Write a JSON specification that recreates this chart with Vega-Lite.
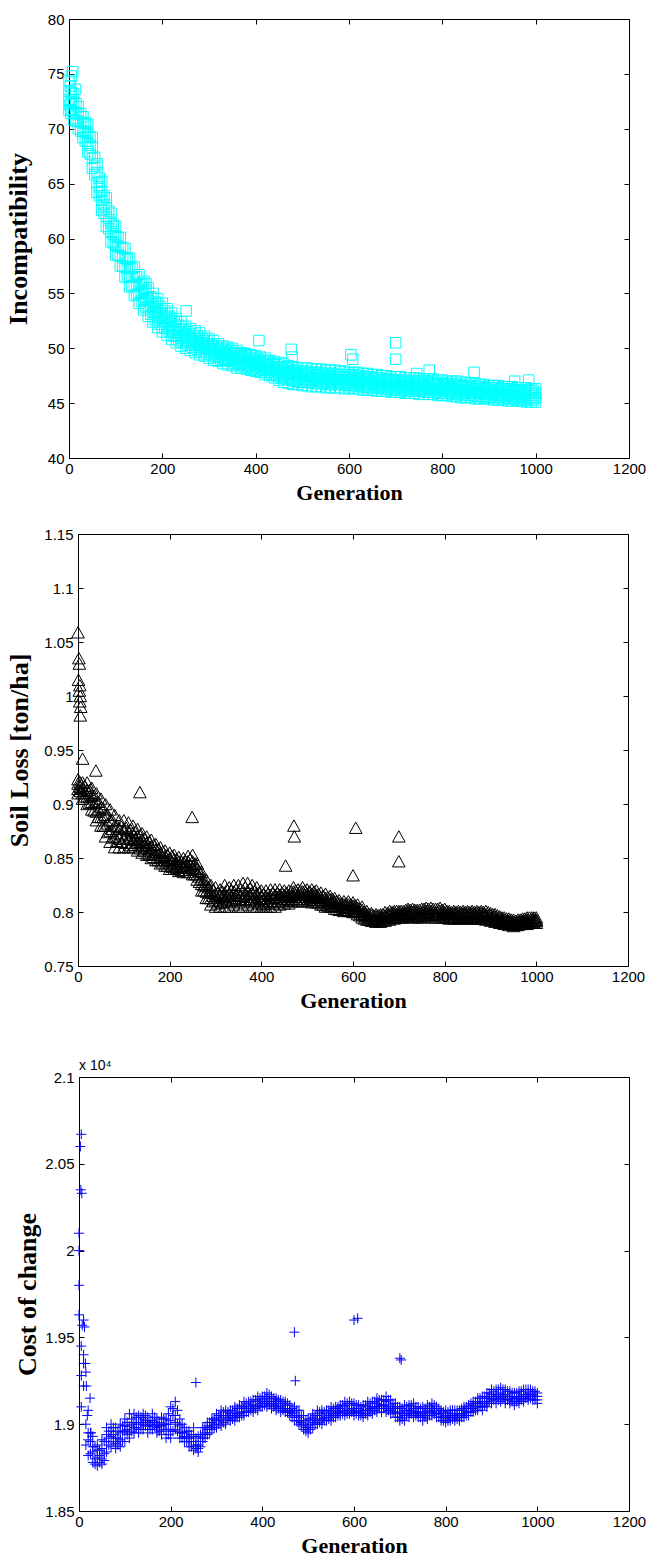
{
"$schema": "https://vega.github.io/schema/vega-lite/v6.json",
"padding": {"left": 5, "top": 12, "right": 0, "bottom": 0},
"background": "white",
"data": {"values": [
{"g":0,"i":74.4,"s":0.923,"c":20100},{"g":0,"i":73.4,"s":0.919,"c":20000},{"g":0,"i":72.6,"s":0.914,"c":19800},{"g":0,"i":71.7,"s":0.910,"c":19630},
{"g":10,"i":73.2,"s":0.920,"c":19600},{"g":10,"i":72.4,"s":0.915,"c":19400},{"g":10,"i":71.5,"s":0.910,"c":19350},{"g":10,"i":70.8,"s":0.905,"c":19220},
{"g":20,"i":72.0,"s":0.920,"c":18820},{"g":20,"i":71.3,"s":0.913,"c":19080},{"g":20,"i":70.7,"s":0.907,"c":18950},{"g":20,"i":70.0,"s":0.900,"c":18910},
{"g":30,"i":71.1,"s":0.915,"c":18870},{"g":30,"i":70.5,"s":0.908,"c":18780},{"g":30,"i":69.8,"s":0.902,"c":18930},{"g":30,"i":69.2,"s":0.895,"c":18840},
{"g":40,"i":70.4,"s":0.910,"c":18760},{"g":40,"i":69.6,"s":0.902,"c":18880},{"g":40,"i":68.7,"s":0.893,"c":18810},{"g":40,"i":67.9,"s":0.885,"c":18850},
{"g":50,"i":69.2,"s":0.905,"c":18910},{"g":50,"i":68.3,"s":0.897,"c":18770},{"g":50,"i":67.3,"s":0.888,"c":18860},{"g":50,"i":66.4,"s":0.880,"c":18800},
{"g":60,"i":66.8,"s":0.900,"c":18840},{"g":60,"i":66.0,"s":0.890,"c":18980},{"g":60,"i":65.1,"s":0.880,"c":18900},{"g":60,"i":64.2,"s":0.870,"c":18940},
{"g":70,"i":65.2,"s":0.895,"c":19000},{"g":70,"i":64.3,"s":0.885,"c":18870},{"g":70,"i":63.5,"s":0.875,"c":18930},{"g":70,"i":62.6,"s":0.865,"c":18960},
{"g":80,"i":63.7,"s":0.890,"c":18860},{"g":80,"i":62.8,"s":0.880,"c":18980},{"g":80,"i":62.0,"s":0.870,"c":18920},{"g":80,"i":61.1,"s":0.860,"c":18890},
{"g":90,"i":62.3,"s":0.885,"c":18950},{"g":90,"i":61.4,"s":0.877,"c":18870},{"g":90,"i":60.6,"s":0.868,"c":19000},{"g":90,"i":59.7,"s":0.860,"c":18910},
{"g":100,"i":61.1,"s":0.885,"c":19030},{"g":100,"i":60.2,"s":0.877,"c":18900},{"g":100,"i":59.4,"s":0.868,"c":18960},{"g":100,"i":58.5,"s":0.860,"c":18990},
{"g":110,"i":60.1,"s":0.883,"c":18920},{"g":110,"i":59.2,"s":0.875,"c":19060},{"g":110,"i":58.4,"s":0.868,"c":18990},{"g":110,"i":57.5,"s":0.860,"c":18950},
{"g":120,"i":59.1,"s":0.880,"c":19010},{"g":120,"i":58.2,"s":0.873,"c":18950},{"g":120,"i":57.4,"s":0.867,"c":19060},{"g":120,"i":56.5,"s":0.860,"c":18980},
{"g":130,"i":58.2,"s":0.877,"c":18950},{"g":130,"i":57.3,"s":0.870,"c":19050},{"g":130,"i":56.5,"s":0.864,"c":19000},{"g":130,"i":55.6,"s":0.857,"c":18970},
{"g":140,"i":57.4,"s":0.873,"c":19060},{"g":140,"i":56.5,"s":0.867,"c":18970},{"g":140,"i":55.7,"s":0.861,"c":19030},{"g":140,"i":54.8,"s":0.855,"c":19000},
{"g":150,"i":56.7,"s":0.870,"c":18950},{"g":150,"i":55.8,"s":0.864,"c":19040},{"g":150,"i":55.0,"s":0.859,"c":18990},{"g":150,"i":54.1,"s":0.853,"c":19010},
{"g":160,"i":56.1,"s":0.867,"c":19060},{"g":160,"i":55.2,"s":0.861,"c":18970},{"g":160,"i":54.4,"s":0.856,"c":19020},{"g":160,"i":53.5,"s":0.850,"c":18990},
{"g":170,"i":55.5,"s":0.863,"c":18950},{"g":170,"i":54.6,"s":0.858,"c":19030},{"g":170,"i":53.8,"s":0.853,"c":18980},{"g":170,"i":52.9,"s":0.848,"c":19000},
{"g":180,"i":55.0,"s":0.860,"c":19040},{"g":180,"i":54.1,"s":0.855,"c":18940},{"g":180,"i":53.3,"s":0.850,"c":18990},{"g":180,"i":52.4,"s":0.845,"c":18960},
{"g":190,"i":54.5,"s":0.857,"c":18920},{"g":190,"i":53.6,"s":0.852,"c":19030},{"g":190,"i":52.8,"s":0.848,"c":18970},{"g":190,"i":51.9,"s":0.843,"c":19000},
{"g":200,"i":54.1,"s":0.855,"c":19100},{"g":200,"i":53.2,"s":0.850,"c":18920},{"g":200,"i":52.4,"s":0.845,"c":19020},{"g":200,"i":51.5,"s":0.840,"c":18960},
{"g":210,"i":53.6,"s":0.853,"c":18970},{"g":210,"i":52.8,"s":0.849,"c":19130},{"g":210,"i":52.0,"s":0.844,"c":19050},{"g":210,"i":51.2,"s":0.840,"c":19010},
{"g":220,"i":53.2,"s":0.851,"c":19030},{"g":220,"i":52.4,"s":0.847,"c":18920},{"g":220,"i":51.6,"s":0.842,"c":18990},{"g":220,"i":50.8,"s":0.838,"c":18950},
{"g":230,"i":52.7,"s":0.850,"c":18900},{"g":230,"i":52.0,"s":0.846,"c":18980},{"g":230,"i":51.2,"s":0.841,"c":18930},{"g":230,"i":50.5,"s":0.837,"c":18950},
{"g":240,"i":52.4,"s":0.852,"c":18960},{"g":240,"i":51.7,"s":0.847,"c":18870},{"g":240,"i":50.9,"s":0.842,"c":18920},{"g":240,"i":50.2,"s":0.837,"c":18900},
{"g":250,"i":52.0,"s":0.853,"c":18850},{"g":250,"i":51.3,"s":0.847,"c":18980},{"g":250,"i":50.7,"s":0.841,"c":18900},{"g":250,"i":50.0,"s":0.835,"c":18930},
{"g":260,"i":51.8,"s":0.845,"c":18930},{"g":260,"i":51.1,"s":0.840,"c":18840},{"g":260,"i":50.5,"s":0.835,"c":18880},{"g":260,"i":49.8,"s":0.830,"c":18860},
{"g":270,"i":51.6,"s":0.837,"c":18900},{"g":270,"i":50.9,"s":0.831,"c":18980},{"g":270,"i":50.3,"s":0.826,"c":18940},{"g":270,"i":49.6,"s":0.820,"c":18920},
{"g":280,"i":51.4,"s":0.830,"c":19010},{"g":280,"i":50.7,"s":0.824,"c":18940},{"g":280,"i":50.1,"s":0.819,"c":18970},{"g":280,"i":49.4,"s":0.813,"c":18990},
{"g":290,"i":51.1,"s":0.825,"c":18970},{"g":290,"i":50.5,"s":0.819,"c":19030},{"g":290,"i":49.9,"s":0.813,"c":18990},{"g":290,"i":49.3,"s":0.807,"c":19010},
{"g":300,"i":50.9,"s":0.823,"c":19060},{"g":300,"i":50.3,"s":0.817,"c":18980},{"g":300,"i":49.7,"s":0.811,"c":19020},{"g":300,"i":49.1,"s":0.805,"c":19040},
{"g":310,"i":50.7,"s":0.821,"c":18990},{"g":310,"i":50.1,"s":0.816,"c":19080},{"g":310,"i":49.5,"s":0.810,"c":19030},{"g":310,"i":48.9,"s":0.805,"c":19050},
{"g":320,"i":50.4,"s":0.825,"c":19080},{"g":320,"i":49.9,"s":0.818,"c":19000},{"g":320,"i":49.3,"s":0.812,"c":19050},{"g":320,"i":48.8,"s":0.805,"c":19020},
{"g":330,"i":50.2,"s":0.823,"c":19020},{"g":330,"i":49.7,"s":0.817,"c":19080},{"g":330,"i":49.1,"s":0.811,"c":19040},{"g":330,"i":48.6,"s":0.805,"c":19060},
{"g":340,"i":50.1,"s":0.825,"c":19100},{"g":340,"i":49.6,"s":0.819,"c":19020},{"g":340,"i":49.0,"s":0.813,"c":19070},{"g":340,"i":48.5,"s":0.807,"c":19040},
{"g":350,"i":50.0,"s":0.825,"c":19040},{"g":350,"i":49.5,"s":0.818,"c":19110},{"g":350,"i":48.9,"s":0.812,"c":19060},{"g":350,"i":48.4,"s":0.805,"c":19090},
{"g":360,"i":49.8,"s":0.827,"c":19130},{"g":360,"i":49.3,"s":0.820,"c":19050},{"g":360,"i":48.7,"s":0.812,"c":19100},{"g":360,"i":48.2,"s":0.805,"c":19070},
{"g":370,"i":49.6,"s":0.827,"c":19070},{"g":370,"i":49.2,"s":0.820,"c":19130},{"g":370,"i":48.6,"s":0.814,"c":19090},{"g":370,"i":48.2,"s":0.807,"c":19110},
{"g":380,"i":49.5,"s":0.825,"c":19140},{"g":380,"i":49.1,"s":0.818,"c":19070},{"g":380,"i":48.5,"s":0.812,"c":19110},{"g":380,"i":48.1,"s":0.805,"c":19090},
{"g":390,"i":49.4,"s":0.823,"c":19080},{"g":390,"i":48.9,"s":0.817,"c":19160},{"g":390,"i":48.5,"s":0.811,"c":19110},{"g":390,"i":48.0,"s":0.805,"c":19130},
{"g":400,"i":49.3,"s":0.820,"c":19160},{"g":400,"i":48.8,"s":0.815,"c":19100},{"g":400,"i":48.4,"s":0.810,"c":19140},{"g":400,"i":47.9,"s":0.805,"c":19120},
{"g":410,"i":49.2,"s":0.820,"c":19100},{"g":410,"i":48.7,"s":0.815,"c":19180},{"g":410,"i":48.3,"s":0.810,"c":19130},{"g":410,"i":47.8,"s":0.805,"c":19150},
{"g":420,"i":49.1,"s":0.821,"c":19160},{"g":420,"i":48.6,"s":0.816,"c":19090},{"g":420,"i":48.1,"s":0.810,"c":19120},{"g":420,"i":47.6,"s":0.805,"c":19140},
{"g":430,"i":48.9,"s":0.821,"c":19080},{"g":430,"i":48.5,"s":0.816,"c":19150},{"g":430,"i":48.0,"s":0.810,"c":19110},{"g":430,"i":47.5,"s":0.805,"c":19130},
{"g":440,"i":48.8,"s":0.821,"c":19140},{"g":440,"i":48.3,"s":0.816,"c":19070},{"g":440,"i":47.8,"s":0.812,"c":19100},{"g":440,"i":47.3,"s":0.807,"c":19120},
{"g":450,"i":48.7,"s":0.820,"c":19070},{"g":450,"i":48.2,"s":0.816,"c":19130},{"g":450,"i":47.6,"s":0.812,"c":19090},{"g":450,"i":47.1,"s":0.808,"c":19110},
{"g":460,"i":48.6,"s":0.820,"c":19110},{"g":460,"i":48.0,"s":0.816,"c":19050},{"g":460,"i":47.5,"s":0.812,"c":19080},{"g":460,"i":46.9,"s":0.808,"c":19070},
{"g":470,"i":48.4,"s":0.823,"c":19020},{"g":470,"i":47.9,"s":0.819,"c":19100},{"g":470,"i":47.3,"s":0.814,"c":19050},{"g":470,"i":46.8,"s":0.810,"c":19070},
{"g":480,"i":48.3,"s":0.821,"c":19080},{"g":480,"i":47.8,"s":0.817,"c":19000},{"g":480,"i":47.2,"s":0.814,"c":19040},{"g":480,"i":46.7,"s":0.810,"c":19020},
{"g":490,"i":48.2,"s":0.823,"c":18970},{"g":490,"i":47.7,"s":0.819,"c":19050},{"g":490,"i":47.2,"s":0.814,"c":19000},{"g":490,"i":46.7,"s":0.810,"c":19020},
{"g":500,"i":48.2,"s":0.821,"c":19030},{"g":500,"i":47.7,"s":0.817,"c":18950},{"g":500,"i":47.1,"s":0.814,"c":18990},{"g":500,"i":46.6,"s":0.810,"c":18970},
{"g":510,"i":48.2,"s":0.821,"c":18980},{"g":510,"i":47.6,"s":0.817,"c":19060},{"g":510,"i":47.1,"s":0.813,"c":19010},{"g":510,"i":46.6,"s":0.809,"c":19040},
{"g":520,"i":48.1,"s":0.820,"c":19080},{"g":520,"i":47.6,"s":0.816,"c":19000},{"g":520,"i":47.1,"s":0.813,"c":19050},{"g":520,"i":46.5,"s":0.809,"c":19020},
{"g":530,"i":48.1,"s":0.818,"c":19000},{"g":530,"i":47.6,"s":0.814,"c":19080},{"g":530,"i":47.0,"s":0.811,"c":19030},{"g":530,"i":46.5,"s":0.807,"c":19060},
{"g":540,"i":48.1,"s":0.817,"c":19080},{"g":540,"i":47.5,"s":0.813,"c":19020},{"g":540,"i":47.0,"s":0.809,"c":19060},{"g":540,"i":46.5,"s":0.805,"c":19040},
{"g":550,"i":48.0,"s":0.815,"c":19020},{"g":550,"i":47.5,"s":0.812,"c":19100},{"g":550,"i":47.0,"s":0.808,"c":19050},{"g":550,"i":46.4,"s":0.805,"c":19070},
{"g":560,"i":48.0,"s":0.813,"c":19100},{"g":560,"i":47.5,"s":0.810,"c":19040},{"g":560,"i":46.9,"s":0.806,"c":19080},{"g":560,"i":46.4,"s":0.803,"c":19060},
{"g":570,"i":48.0,"s":0.811,"c":19050},{"g":570,"i":47.4,"s":0.808,"c":19110},{"g":570,"i":46.9,"s":0.805,"c":19070},{"g":570,"i":46.4,"s":0.802,"c":19090},
{"g":580,"i":47.9,"s":0.810,"c":19130},{"g":580,"i":47.4,"s":0.807,"c":19050},{"g":580,"i":46.9,"s":0.804,"c":19100},{"g":580,"i":46.4,"s":0.801,"c":19070},
{"g":590,"i":47.9,"s":0.810,"c":19060},{"g":590,"i":47.4,"s":0.807,"c":19130},{"g":590,"i":46.9,"s":0.804,"c":19080},{"g":590,"i":46.3,"s":0.801,"c":19110},
{"g":600,"i":47.8,"s":0.809,"c":19120},{"g":600,"i":47.3,"s":0.806,"c":19050},{"g":600,"i":46.9,"s":0.803,"c":19090},{"g":600,"i":46.4,"s":0.800,"c":19070},
{"g":610,"i":47.8,"s":0.807,"c":19050},{"g":610,"i":47.3,"s":0.804,"c":19110},{"g":610,"i":46.8,"s":0.801,"c":19070},{"g":610,"i":46.3,"s":0.798,"c":19090},
{"g":620,"i":47.8,"s":0.805,"c":19110},{"g":620,"i":47.3,"s":0.802,"c":19040},{"g":620,"i":46.8,"s":0.798,"c":19080},{"g":620,"i":46.3,"s":0.795,"c":19060},
{"g":630,"i":47.7,"s":0.801,"c":19050},{"g":630,"i":47.2,"s":0.798,"c":19130},{"g":630,"i":46.7,"s":0.796,"c":19080},{"g":630,"i":46.2,"s":0.793,"c":19100},
{"g":640,"i":47.7,"s":0.799,"c":19130},{"g":640,"i":47.2,"s":0.797,"c":19060},{"g":640,"i":46.7,"s":0.794,"c":19100},{"g":640,"i":46.2,"s":0.792,"c":19080},
{"g":650,"i":47.6,"s":0.798,"c":19070},{"g":650,"i":47.1,"s":0.796,"c":19150},{"g":650,"i":46.7,"s":0.793,"c":19100},{"g":650,"i":46.2,"s":0.791,"c":19120},
{"g":660,"i":47.6,"s":0.798,"c":19140},{"g":660,"i":47.1,"s":0.796,"c":19070},{"g":660,"i":46.6,"s":0.793,"c":19110},{"g":660,"i":46.1,"s":0.791,"c":19090},
{"g":670,"i":47.5,"s":0.800,"c":19070},{"g":670,"i":47.1,"s":0.797,"c":19160},{"g":670,"i":46.6,"s":0.795,"c":19100},{"g":670,"i":46.1,"s":0.792,"c":19130},
{"g":680,"i":47.5,"s":0.801,"c":19140},{"g":680,"i":47.0,"s":0.798,"c":19060},{"g":680,"i":46.5,"s":0.796,"c":19110},{"g":680,"i":46.1,"s":0.793,"c":19080},
{"g":690,"i":47.4,"s":0.801,"c":19040},{"g":690,"i":47.0,"s":0.799,"c":19120},{"g":690,"i":46.5,"s":0.796,"c":19070},{"g":690,"i":46.0,"s":0.794,"c":19090},
{"g":700,"i":47.4,"s":0.801,"c":19100},{"g":700,"i":46.9,"s":0.799,"c":19020},{"g":700,"i":46.5,"s":0.797,"c":19070},{"g":700,"i":46.0,"s":0.795,"c":19040},
{"g":710,"i":47.4,"s":0.801,"c":19020},{"g":710,"i":46.9,"s":0.799,"c":19110},{"g":710,"i":46.4,"s":0.797,"c":19050},{"g":710,"i":46.0,"s":0.795,"c":19080},
{"g":720,"i":47.3,"s":0.803,"c":19110},{"g":720,"i":46.9,"s":0.801,"c":19040},{"g":720,"i":46.4,"s":0.798,"c":19080},{"g":720,"i":45.9,"s":0.796,"c":19060},
{"g":730,"i":47.3,"s":0.803,"c":19040},{"g":730,"i":46.8,"s":0.800,"c":19120},{"g":730,"i":46.4,"s":0.798,"c":19070},{"g":730,"i":45.9,"s":0.795,"c":19090},
{"g":740,"i":47.3,"s":0.802,"c":19100},{"g":740,"i":46.8,"s":0.800,"c":19040},{"g":740,"i":46.3,"s":0.797,"c":19070},{"g":740,"i":45.9,"s":0.795,"c":19060},
{"g":750,"i":47.2,"s":0.803,"c":19020},{"g":750,"i":46.8,"s":0.800,"c":19100},{"g":750,"i":46.3,"s":0.798,"c":19050},{"g":750,"i":45.8,"s":0.795,"c":19070},
{"g":760,"i":47.2,"s":0.804,"c":19110},{"g":760,"i":46.7,"s":0.801,"c":19030},{"g":760,"i":46.3,"s":0.799,"c":19080},{"g":760,"i":45.8,"s":0.796,"c":19050},
{"g":770,"i":47.2,"s":0.804,"c":19050},{"g":770,"i":46.7,"s":0.801,"c":19120},{"g":770,"i":46.3,"s":0.798,"c":19070},{"g":770,"i":45.8,"s":0.795,"c":19090},
{"g":780,"i":47.2,"s":0.803,"c":19100},{"g":780,"i":46.7,"s":0.800,"c":19040},{"g":780,"i":46.2,"s":0.798,"c":19070},{"g":780,"i":45.8,"s":0.795,"c":19060},
{"g":790,"i":47.1,"s":0.804,"c":19020},{"g":790,"i":46.7,"s":0.801,"c":19080},{"g":790,"i":46.2,"s":0.798,"c":19040},{"g":790,"i":45.7,"s":0.795,"c":19060},
{"g":800,"i":47.1,"s":0.803,"c":19080},{"g":800,"i":46.6,"s":0.800,"c":19010},{"g":800,"i":46.2,"s":0.798,"c":19050},{"g":800,"i":45.7,"s":0.795,"c":19030},
{"g":810,"i":47.0,"s":0.801,"c":19020},{"g":810,"i":46.6,"s":0.799,"c":19080},{"g":810,"i":46.1,"s":0.796,"c":19040},{"g":810,"i":45.7,"s":0.794,"c":19060},
{"g":820,"i":47.0,"s":0.801,"c":19080},{"g":820,"i":46.5,"s":0.799,"c":19020},{"g":820,"i":46.1,"s":0.796,"c":19060},{"g":820,"i":45.6,"s":0.794,"c":19040},
{"g":830,"i":47.0,"s":0.801,"c":19020},{"g":830,"i":46.5,"s":0.799,"c":19080},{"g":830,"i":46.0,"s":0.796,"c":19040},{"g":830,"i":45.6,"s":0.794,"c":19060},
{"g":840,"i":46.9,"s":0.801,"c":19100},{"g":840,"i":46.5,"s":0.799,"c":19040},{"g":840,"i":46.0,"s":0.796,"c":19080},{"g":840,"i":45.5,"s":0.794,"c":19060},
{"g":850,"i":46.9,"s":0.801,"c":19050},{"g":850,"i":46.4,"s":0.799,"c":19110},{"g":850,"i":46.0,"s":0.796,"c":19070},{"g":850,"i":45.5,"s":0.794,"c":19090},
{"g":860,"i":46.8,"s":0.801,"c":19130},{"g":860,"i":46.4,"s":0.799,"c":19070},{"g":860,"i":45.9,"s":0.796,"c":19110},{"g":860,"i":45.5,"s":0.794,"c":19090},
{"g":870,"i":46.8,"s":0.801,"c":19080},{"g":870,"i":46.3,"s":0.799,"c":19150},{"g":870,"i":45.9,"s":0.796,"c":19100},{"g":870,"i":45.4,"s":0.794,"c":19120},
{"g":880,"i":46.7,"s":0.801,"c":19160},{"g":880,"i":46.3,"s":0.799,"c":19080},{"g":880,"i":45.9,"s":0.796,"c":19130},{"g":880,"i":45.4,"s":0.794,"c":19100},
{"g":890,"i":46.7,"s":0.801,"c":19100},{"g":890,"i":46.3,"s":0.798,"c":19180},{"g":890,"i":45.8,"s":0.796,"c":19120},{"g":890,"i":45.4,"s":0.793,"c":19150},
{"g":900,"i":46.6,"s":0.799,"c":19200},{"g":900,"i":46.2,"s":0.797,"c":19120},{"g":900,"i":45.8,"s":0.794,"c":19170},{"g":900,"i":45.4,"s":0.792,"c":19140},
{"g":910,"i":46.6,"s":0.798,"c":19120},{"g":910,"i":46.2,"s":0.796,"c":19200},{"g":910,"i":45.8,"s":0.793,"c":19150},{"g":910,"i":45.3,"s":0.791,"c":19170},
{"g":920,"i":46.6,"s":0.796,"c":19210},{"g":920,"i":46.2,"s":0.794,"c":19130},{"g":920,"i":45.7,"s":0.792,"c":19180},{"g":920,"i":45.3,"s":0.790,"c":19150},
{"g":930,"i":46.5,"s":0.795,"c":19120},{"g":930,"i":46.1,"s":0.793,"c":19200},{"g":930,"i":45.7,"s":0.791,"c":19140},{"g":930,"i":45.3,"s":0.789,"c":19170},
{"g":940,"i":46.5,"s":0.794,"c":19190},{"g":940,"i":46.1,"s":0.792,"c":19120},{"g":940,"i":45.7,"s":0.790,"c":19160},{"g":940,"i":45.2,"s":0.788,"c":19140},
{"g":950,"i":46.5,"s":0.793,"c":19110},{"g":950,"i":46.1,"s":0.791,"c":19180},{"g":950,"i":45.6,"s":0.789,"c":19130},{"g":950,"i":45.2,"s":0.787,"c":19150},
{"g":960,"i":46.4,"s":0.793,"c":19190},{"g":960,"i":46.0,"s":0.791,"c":19120},{"g":960,"i":45.6,"s":0.790,"c":19160},{"g":960,"i":45.2,"s":0.788,"c":19140},
{"g":970,"i":46.4,"s":0.794,"c":19130},{"g":970,"i":46.0,"s":0.792,"c":19200},{"g":970,"i":45.6,"s":0.791,"c":19150},{"g":970,"i":45.2,"s":0.789,"c":19170},
{"g":980,"i":46.4,"s":0.795,"c":19200},{"g":980,"i":46.0,"s":0.793,"c":19140},{"g":980,"i":45.5,"s":0.791,"c":19180},{"g":980,"i":45.1,"s":0.789,"c":19160},
{"g":990,"i":46.3,"s":0.795,"c":19140},{"g":990,"i":45.9,"s":0.793,"c":19190},{"g":990,"i":45.5,"s":0.792,"c":19160},{"g":990,"i":45.1,"s":0.790,"c":19170},
{"g":1000,"i":46.3,"s":0.795,"c":19180},{"g":1000,"i":45.9,"s":0.793,"c":19120},{"g":1000,"i":45.5,"s":0.792,"c":19160},{"g":1000,"i":45.1,"s":0.790,"c":19140},
{"g":5,"i":73.3,"s":0.920,"c":19450},{"g":5,"i":72.5,"s":0.916,"c":19280},{"g":5,"i":71.7,"s":0.912,"c":19100},
{"g":15,"i":72.3,"s":0.917,"c":19300},{"g":15,"i":71.5,"s":0.912,"c":19000},{"g":15,"i":70.7,"s":0.907,"c":18880},
{"g":25,"i":71.4,"s":0.913,"c":18900},{"g":25,"i":70.6,"s":0.907,"c":18830},{"g":25,"i":69.8,"s":0.901,"c":18950},
{"g":35,"i":70.5,"s":0.908,"c":18800},{"g":35,"i":69.7,"s":0.901,"c":18870},{"g":35,"i":68.9,"s":0.894,"c":18770},
{"g":45,"i":69.3,"s":0.902,"c":18780},{"g":45,"i":68.5,"s":0.895,"c":18850},{"g":45,"i":67.7,"s":0.888,"c":18820},
{"g":55,"i":67.4,"s":0.896,"c":18830},{"g":55,"i":66.6,"s":0.888,"c":18900},{"g":55,"i":65.8,"s":0.880,"c":18790},
{"g":65,"i":65.5,"s":0.890,"c":18880},{"g":65,"i":64.7,"s":0.882,"c":18960},{"g":65,"i":63.9,"s":0.874,"c":18920},
{"g":75,"i":63.9,"s":0.885,"c":18900},{"g":75,"i":63.1,"s":0.877,"c":18980},{"g":75,"i":62.3,"s":0.869,"c":18940},
{"g":85,"i":62.5,"s":0.880,"c":18920},{"g":85,"i":61.7,"s":0.873,"c":18880},{"g":85,"i":60.9,"s":0.866,"c":18960},
{"g":95,"i":61.2,"s":0.879,"c":18960},{"g":95,"i":60.4,"s":0.872,"c":18900},{"g":95,"i":59.6,"s":0.865,"c":18990},
{"g":105,"i":60.1,"s":0.878,"c":18940},{"g":105,"i":59.3,"s":0.871,"c":19010},{"g":105,"i":58.5,"s":0.864,"c":18970},
{"g":115,"i":59.1,"s":0.876,"c":19030},{"g":115,"i":58.3,"s":0.869,"c":18960},{"g":115,"i":57.5,"s":0.862,"c":19000},
{"g":125,"i":58.1,"s":0.874,"c":18980},{"g":125,"i":57.3,"s":0.868,"c":19040},{"g":125,"i":56.5,"s":0.862,"c":19010},
{"g":135,"i":57.3,"s":0.871,"c":19010},{"g":135,"i":56.5,"s":0.865,"c":18970},{"g":135,"i":55.7,"s":0.859,"c":19040},
{"g":145,"i":56.5,"s":0.868,"c":18990},{"g":145,"i":55.7,"s":0.862,"c":19050},{"g":145,"i":54.9,"s":0.857,"c":19020},
{"g":155,"i":55.9,"s":0.865,"c":19020},{"g":155,"i":55.1,"s":0.859,"c":18970},{"g":155,"i":54.3,"s":0.854,"c":19000},
{"g":165,"i":55.3,"s":0.862,"c":18990},{"g":165,"i":54.5,"s":0.856,"c":19040},{"g":165,"i":53.7,"s":0.851,"c":19010},
{"g":175,"i":54.7,"s":0.858,"c":19010},{"g":175,"i":53.9,"s":0.853,"c":18960},{"g":175,"i":53.1,"s":0.848,"c":18990},
{"g":185,"i":54.2,"s":0.856,"c":18970},{"g":185,"i":53.4,"s":0.851,"c":19030},{"g":185,"i":52.6,"s":0.846,"c":19000},
{"g":195,"i":53.8,"s":0.853,"c":19000},{"g":195,"i":53.0,"s":0.848,"c":18940},{"g":195,"i":52.2,"s":0.843,"c":19060},
{"g":205,"i":53.4,"s":0.852,"c":19050},{"g":205,"i":52.6,"s":0.847,"c":18960},{"g":205,"i":51.8,"s":0.842,"c":19090},
{"g":215,"i":52.9,"s":0.849,"c":19000},{"g":215,"i":52.2,"s":0.845,"c":19080},{"g":215,"i":51.5,"s":0.841,"c":18960},
{"g":225,"i":52.5,"s":0.847,"c":18950},{"g":225,"i":51.8,"s":0.843,"c":19000},{"g":225,"i":51.1,"s":0.839,"c":18920},
{"g":235,"i":52.1,"s":0.847,"c":18920},{"g":235,"i":51.4,"s":0.843,"c":18960},{"g":235,"i":50.7,"s":0.839,"c":18900},
{"g":245,"i":51.7,"s":0.849,"c":18900},{"g":245,"i":51.1,"s":0.844,"c":18940},{"g":245,"i":50.5,"s":0.839,"c":18870},
{"g":255,"i":51.5,"s":0.845,"c":18880},{"g":255,"i":50.9,"s":0.840,"c":18920},{"g":255,"i":50.3,"s":0.835,"c":18860},
{"g":265,"i":51.3,"s":0.838,"c":18900},{"g":265,"i":50.7,"s":0.833,"c":18940},{"g":265,"i":50.1,"s":0.828,"c":18870},
{"g":275,"i":51.1,"s":0.830,"c":18950},{"g":275,"i":50.5,"s":0.825,"c":18920},{"g":275,"i":49.9,"s":0.820,"c":18980},
{"g":285,"i":50.9,"s":0.823,"c":18980},{"g":285,"i":50.3,"s":0.818,"c":19010},{"g":285,"i":49.7,"s":0.813,"c":18950},
{"g":295,"i":50.7,"s":0.820,"c":19000},{"g":295,"i":50.1,"s":0.815,"c":19030},{"g":295,"i":49.5,"s":0.810,"c":18980},
{"g":305,"i":50.4,"s":0.818,"c":19020},{"g":305,"i":49.9,"s":0.813,"c":19050},{"g":305,"i":49.4,"s":0.808,"c":19000},
{"g":315,"i":50.2,"s":0.819,"c":19040},{"g":315,"i":49.7,"s":0.814,"c":19070},{"g":315,"i":49.2,"s":0.809,"c":19010},
{"g":325,"i":50.0,"s":0.821,"c":19030},{"g":325,"i":49.5,"s":0.815,"c":19070},{"g":325,"i":49.0,"s":0.809,"c":19050},
{"g":335,"i":49.9,"s":0.820,"c":19050},{"g":335,"i":49.4,"s":0.815,"c":19080},{"g":335,"i":48.9,"s":0.810,"c":19030},
{"g":345,"i":49.8,"s":0.821,"c":19060},{"g":345,"i":49.3,"s":0.816,"c":19090},{"g":345,"i":48.8,"s":0.811,"c":19040},
{"g":355,"i":49.6,"s":0.821,"c":19070},{"g":355,"i":49.1,"s":0.815,"c":19100},{"g":355,"i":48.6,"s":0.809,"c":19050},
{"g":365,"i":49.5,"s":0.823,"c":19090},{"g":365,"i":49.0,"s":0.817,"c":19120},{"g":365,"i":48.5,"s":0.811,"c":19070},
{"g":375,"i":49.4,"s":0.822,"c":19100},{"g":375,"i":48.9,"s":0.816,"c":19130},{"g":375,"i":48.4,"s":0.810,"c":19080},
{"g":385,"i":49.3,"s":0.819,"c":19100},{"g":385,"i":48.8,"s":0.814,"c":19140},{"g":385,"i":48.3,"s":0.809,"c":19090},
{"g":395,"i":49.1,"s":0.818,"c":19120},{"g":395,"i":48.7,"s":0.813,"c":19150},{"g":395,"i":48.2,"s":0.808,"c":19100},
{"g":405,"i":49.0,"s":0.817,"c":19130},{"g":405,"i":48.6,"s":0.812,"c":19160},{"g":405,"i":48.1,"s":0.807,"c":19110},
{"g":415,"i":48.9,"s":0.817,"c":19130},{"g":415,"i":48.4,"s":0.813,"c":19170},{"g":415,"i":48.0,"s":0.808,"c":19110},
{"g":425,"i":48.8,"s":0.818,"c":19110},{"g":425,"i":48.3,"s":0.813,"c":19150},{"g":425,"i":47.8,"s":0.808,"c":19100},
{"g":435,"i":48.6,"s":0.818,"c":19100},{"g":435,"i":48.1,"s":0.814,"c":19140},{"g":435,"i":47.6,"s":0.810,"c":19090},
{"g":445,"i":48.5,"s":0.818,"c":19090},{"g":445,"i":48.0,"s":0.814,"c":19130},{"g":445,"i":47.5,"s":0.810,"c":19080},
{"g":455,"i":48.3,"s":0.818,"c":19080},{"g":455,"i":47.8,"s":0.814,"c":19120},{"g":455,"i":47.3,"s":0.810,"c":19070},
{"g":465,"i":48.2,"s":0.819,"c":19060},{"g":465,"i":47.7,"s":0.815,"c":19090},{"g":465,"i":47.2,"s":0.811,"c":19040},
{"g":475,"i":48.0,"s":0.820,"c":19040},{"g":475,"i":47.6,"s":0.816,"c":19080},{"g":475,"i":47.1,"s":0.812,"c":19020},
{"g":485,"i":48.0,"s":0.820,"c":19010},{"g":485,"i":47.5,"s":0.816,"c":19050},{"g":485,"i":47.0,"s":0.812,"c":18990},
{"g":495,"i":47.9,"s":0.820,"c":18980},{"g":495,"i":47.4,"s":0.816,"c":19020},{"g":495,"i":46.9,"s":0.812,"c":18960},
{"g":505,"i":47.9,"s":0.819,"c":19000},{"g":505,"i":47.4,"s":0.815,"c":19030},{"g":505,"i":46.9,"s":0.811,"c":18970},
{"g":515,"i":47.8,"s":0.819,"c":19020},{"g":515,"i":47.4,"s":0.815,"c":19050},{"g":515,"i":46.9,"s":0.811,"c":19000},
{"g":525,"i":47.8,"s":0.817,"c":19030},{"g":525,"i":47.3,"s":0.813,"c":19070},{"g":525,"i":46.8,"s":0.809,"c":19010},
{"g":535,"i":47.8,"s":0.815,"c":19040},{"g":535,"i":47.3,"s":0.811,"c":19070},{"g":535,"i":46.8,"s":0.807,"c":19020},
{"g":545,"i":47.7,"s":0.814,"c":19050},{"g":545,"i":47.2,"s":0.810,"c":19080},{"g":545,"i":46.8,"s":0.806,"c":19030},
{"g":555,"i":47.7,"s":0.812,"c":19060},{"g":555,"i":47.2,"s":0.808,"c":19090},{"g":555,"i":46.7,"s":0.805,"c":19040},
{"g":565,"i":47.7,"s":0.810,"c":19070},{"g":565,"i":47.2,"s":0.806,"c":19100},{"g":565,"i":46.7,"s":0.803,"c":19050},
{"g":575,"i":47.6,"s":0.808,"c":19080},{"g":575,"i":47.1,"s":0.805,"c":19110},{"g":575,"i":46.7,"s":0.802,"c":19060},
{"g":585,"i":47.6,"s":0.808,"c":19080},{"g":585,"i":47.1,"s":0.805,"c":19120},{"g":585,"i":46.7,"s":0.802,"c":19060},
{"g":595,"i":47.6,"s":0.807,"c":19090},{"g":595,"i":47.1,"s":0.804,"c":19120},{"g":595,"i":46.6,"s":0.801,"c":19070},
{"g":605,"i":47.6,"s":0.806,"c":19080},{"g":605,"i":47.1,"s":0.803,"c":19110},{"g":605,"i":46.6,"s":0.800,"c":19060},
{"g":615,"i":47.5,"s":0.803,"c":19070},{"g":615,"i":47.0,"s":0.800,"c":19100},{"g":615,"i":46.6,"s":0.797,"c":19050},
{"g":625,"i":47.5,"s":0.800,"c":19080},{"g":625,"i":47.0,"s":0.797,"c":19110},{"g":625,"i":46.5,"s":0.794,"c":19060},
{"g":635,"i":47.4,"s":0.798,"c":19090},{"g":635,"i":46.9,"s":0.795,"c":19120},{"g":635,"i":46.5,"s":0.793,"c":19070},
{"g":645,"i":47.4,"s":0.797,"c":19100},{"g":645,"i":46.9,"s":0.794,"c":19130},{"g":645,"i":46.4,"s":0.792,"c":19080},
{"g":655,"i":47.3,"s":0.797,"c":19110},{"g":655,"i":46.9,"s":0.794,"c":19140},{"g":655,"i":46.4,"s":0.792,"c":19090},
{"g":665,"i":47.3,"s":0.798,"c":19110},{"g":665,"i":46.8,"s":0.795,"c":19140},{"g":665,"i":46.4,"s":0.793,"c":19090},
{"g":675,"i":47.2,"s":0.799,"c":19100},{"g":675,"i":46.8,"s":0.796,"c":19140},{"g":675,"i":46.3,"s":0.794,"c":19080},
{"g":685,"i":47.2,"s":0.800,"c":19090},{"g":685,"i":46.7,"s":0.797,"c":19120},{"g":685,"i":46.3,"s":0.795,"c":19070},
{"g":695,"i":47.1,"s":0.801,"c":19060},{"g":695,"i":46.7,"s":0.798,"c":19100},{"g":695,"i":46.2,"s":0.795,"c":19040},
{"g":705,"i":47.1,"s":0.801,"c":19060},{"g":705,"i":46.7,"s":0.798,"c":19090},{"g":705,"i":46.2,"s":0.795,"c":19030},
{"g":715,"i":47.1,"s":0.802,"c":19070},{"g":715,"i":46.6,"s":0.799,"c":19100},{"g":715,"i":46.2,"s":0.796,"c":19050},
{"g":725,"i":47.0,"s":0.802,"c":19080},{"g":725,"i":46.6,"s":0.799,"c":19110},{"g":725,"i":46.1,"s":0.797,"c":19060},
{"g":735,"i":47.0,"s":0.802,"c":19070},{"g":735,"i":46.6,"s":0.799,"c":19100},{"g":735,"i":46.1,"s":0.796,"c":19050},
{"g":745,"i":47.0,"s":0.802,"c":19060},{"g":745,"i":46.5,"s":0.799,"c":19090},{"g":745,"i":46.1,"s":0.796,"c":19040},
{"g":755,"i":47.0,"s":0.803,"c":19060},{"g":755,"i":46.5,"s":0.800,"c":19090},{"g":755,"i":46.1,"s":0.797,"c":19040},
{"g":765,"i":46.9,"s":0.803,"c":19070},{"g":765,"i":46.5,"s":0.800,"c":19100},{"g":765,"i":46.0,"s":0.797,"c":19050},
{"g":775,"i":46.9,"s":0.803,"c":19080},{"g":775,"i":46.4,"s":0.800,"c":19110},{"g":775,"i":46.0,"s":0.797,"c":19060},
{"g":785,"i":46.9,"s":0.803,"c":19060},{"g":785,"i":46.4,"s":0.800,"c":19090},{"g":785,"i":46.0,"s":0.797,"c":19040},
{"g":795,"i":46.8,"s":0.802,"c":19040},{"g":795,"i":46.4,"s":0.799,"c":19070},{"g":795,"i":45.9,"s":0.796,"c":19020},
{"g":805,"i":46.8,"s":0.801,"c":19040},{"g":805,"i":46.4,"s":0.798,"c":19070},{"g":805,"i":45.9,"s":0.795,"c":19020},
{"g":815,"i":46.8,"s":0.800,"c":19050},{"g":815,"i":46.3,"s":0.798,"c":19080},{"g":815,"i":45.9,"s":0.795,"c":19030},
{"g":825,"i":46.7,"s":0.800,"c":19050},{"g":825,"i":46.3,"s":0.798,"c":19080},{"g":825,"i":45.8,"s":0.795,"c":19030},
{"g":835,"i":46.7,"s":0.800,"c":19060},{"g":835,"i":46.2,"s":0.798,"c":19090},{"g":835,"i":45.8,"s":0.795,"c":19040},
{"g":845,"i":46.6,"s":0.800,"c":19070},{"g":845,"i":46.2,"s":0.798,"c":19100},{"g":845,"i":45.7,"s":0.795,"c":19050},
{"g":855,"i":46.6,"s":0.800,"c":19090},{"g":855,"i":46.2,"s":0.798,"c":19120},{"g":855,"i":45.7,"s":0.795,"c":19070},
{"g":865,"i":46.6,"s":0.800,"c":19100},{"g":865,"i":46.1,"s":0.798,"c":19130},{"g":865,"i":45.7,"s":0.795,"c":19080},
{"g":875,"i":46.5,"s":0.800,"c":19120},{"g":875,"i":46.1,"s":0.798,"c":19150},{"g":875,"i":45.6,"s":0.795,"c":19100},
{"g":885,"i":46.5,"s":0.800,"c":19130},{"g":885,"i":46.0,"s":0.798,"c":19160},{"g":885,"i":45.6,"s":0.795,"c":19110},
{"g":895,"i":46.4,"s":0.800,"c":19150},{"g":895,"i":46.0,"s":0.797,"c":19180},{"g":895,"i":45.5,"s":0.794,"c":19130},
{"g":905,"i":46.4,"s":0.798,"c":19160},{"g":905,"i":46.0,"s":0.795,"c":19190},{"g":905,"i":45.6,"s":0.793,"c":19140},
{"g":915,"i":46.4,"s":0.797,"c":19160},{"g":915,"i":45.9,"s":0.794,"c":19200},{"g":915,"i":45.5,"s":0.792,"c":19140},
{"g":925,"i":46.3,"s":0.795,"c":19170},{"g":925,"i":45.9,"s":0.793,"c":19200},{"g":925,"i":45.5,"s":0.791,"c":19150},
{"g":935,"i":46.3,"s":0.794,"c":19160},{"g":935,"i":45.9,"s":0.792,"c":19190},{"g":935,"i":45.5,"s":0.790,"c":19140},
{"g":945,"i":46.3,"s":0.793,"c":19150},{"g":945,"i":45.8,"s":0.791,"c":19180},{"g":945,"i":45.4,"s":0.789,"c":19130},
{"g":955,"i":46.2,"s":0.792,"c":19150},{"g":955,"i":45.8,"s":0.790,"c":19180},{"g":955,"i":45.4,"s":0.788,"c":19130},
{"g":965,"i":46.2,"s":0.793,"c":19160},{"g":965,"i":45.8,"s":0.791,"c":19190},{"g":965,"i":45.4,"s":0.789,"c":19140},
{"g":975,"i":46.2,"s":0.794,"c":19170},{"g":975,"i":45.7,"s":0.792,"c":19200},{"g":975,"i":45.3,"s":0.790,"c":19150},
{"g":985,"i":46.2,"s":0.795,"c":19170},{"g":985,"i":45.7,"s":0.792,"c":19200},{"g":985,"i":45.3,"s":0.790,"c":19150},
{"g":995,"i":46.1,"s":0.795,"c":19160},{"g":995,"i":45.7,"s":0.793,"c":19190},{"g":995,"i":45.3,"s":0.791,"c":19140},
{"g":8,"i":75.2},{"g":5,"i":74.8},{"g":3,"i":73.9},{"g":2,"i":72.2},{"g":4,"i":71.4},{"g":14,"i":73.6},{"g":165,"i":55.9},{"g":251,"i":53.4},{"g":407,"i":50.7},{"g":476,"i":49.9},{"g":478,"i":49.2},{"g":604,"i":49.4},{"g":608,"i":49.0},{"g":700,"i":50.5},{"g":700,"i":49.0},{"g":745,"i":47.7},{"g":772,"i":48.0},{"g":868,"i":47.8},{"g":955,"i":47.0},{"g":985,"i":47.1},
{"g":0,"s":1.059},{"g":2,"s":1.035},{"g":3,"s":1.03},{"g":1,"s":1.015},{"g":4,"s":1.01},{"g":3,"s":1.005},{"g":5,"s":1.0},{"g":4,"s":0.995},{"g":6,"s":0.99},{"g":5,"s":0.982},{"g":10,"s":0.942},{"g":39,"s":0.931},{"g":135,"s":0.911},{"g":249,"s":0.888},{"g":453,"s":0.843},{"g":471,"s":0.880},{"g":472,"s":0.870},{"g":600,"s":0.834},{"g":606,"s":0.878},{"g":700,"s":0.870},{"g":700,"s":0.847},
{"g":5,"c":20670},{"g":3,"c":20600},{"g":4,"c":20350},{"g":6,"c":20330},{"g":7,"c":19570},{"g":12,"c":19560},{"g":14,"c":19350},{"g":16,"c":19220},{"g":18,"c":19050},{"g":24,"c":19150},{"g":26,"c":18950},{"g":255,"c":19240},{"g":470,"c":19530},{"g":472,"c":19250},{"g":600,"c":19600},{"g":608,"c":19610},{"g":700,"c":19380},{"g":703,"c":19370}
]},
"concat": [
{
"width": 560, "height": 439,
"layer": [
{"mark": {"type": "point", "shape": "square", "filled": false, "color": "#00FFFF", "size": 110, "strokeWidth": 1, "opacity": 1},
 "encoding": {
  "x": {"field": "g", "type": "quantitative", "scale": {"domain": [0, 1200], "range": [0, 560], "nice": false}, "axis": {"orient": "bottom", "values": [0,200,400,600,800,1000,1200], "format": "d", "title": "Generation", "titlePadding": 6}},
  "y": {"field": "i", "type": "quantitative", "scale": {"domain": [40, 80], "nice": false, "zero": false}, "axis": {"orient": "left", "values": [40,45,50,55,60,65,70,75,80], "title": "Incompatibility", "titlePadding": 15.5}}
 }},
{"mark": {"type": "point", "opacity": 0},
 "encoding": {
  "x": {"field": "g", "type": "quantitative", "scale": {"domain": [0, 1200], "range": [0, 560], "nice": false}, "axis": {"orient": "top", "values": [0,200,400,600,800,1000,1200], "labels": false, "title": null}},
  "y": {"field": "i", "type": "quantitative", "scale": {"domain": [40, 80], "nice": false, "zero": false}, "axis": {"orient": "right", "values": [40,45,50,55,60,65,70,75,80], "labels": false, "title": null}}
 }}
],
"resolve": {"axis": {"x": "independent", "y": "independent"}}
},
{
"width": 559, "height": 432,
"layer": [
{"mark": {"type": "point", "shape": "M0,-0.9L1,0.9L-1,0.9Z", "filled": false, "color": "#000000", "size": 160, "strokeWidth": 1, "opacity": 1},
 "encoding": {
  "x": {"field": "g", "type": "quantitative", "scale": {"domain": [0, 1200], "range": [9, 559], "nice": false}, "axis": {"orient": "bottom", "values": [0,200,400,600,800,1000,1200], "format": "d", "title": "Generation", "titlePadding": 6}},
  "y": {"field": "s", "type": "quantitative", "scale": {"domain": [0.75, 1.15], "nice": false, "zero": false}, "axis": {"orient": "left", "offset": -9, "values": [0.75,0.8,0.85,0.9,0.95,1,1.05,1.1,1.15], "format": "~g", "title": "Soil Loss [ton/ha]", "titlePadding": 11}}
 }},
{"mark": {"type": "point", "opacity": 0},
 "encoding": {
  "x": {"field": "g", "type": "quantitative", "scale": {"domain": [0, 1200], "range": [9, 559], "nice": false}, "axis": {"orient": "top", "values": [0,200,400,600,800,1000,1200], "labels": false, "title": null}},
  "y": {"field": "s", "type": "quantitative", "scale": {"domain": [0.75, 1.15], "nice": false, "zero": false}, "axis": {"orient": "right", "values": [0.75,0.8,0.85,0.9,0.95,1,1.05,1.1,1.15], "labels": false, "title": null}}
 }}
],
"resolve": {"axis": {"x": "independent", "y": "independent"}}
},
{
"width": 560, "height": 434,
"title": {"text": ["", "x 10⁴"], "anchor": "start", "frame": "group", "dx": 10, "font": "Liberation Sans", "fontSize": 14, "fontWeight": "normal", "color": "#000000", "lineHeight": 24, "offset": -3},
"layer": [
{"mark": {"type": "point", "shape": "M-1,0L1,0M0,-1L0,1", "filled": false, "color": "#0000FF", "size": 100, "strokeWidth": 1, "opacity": 1},
 "encoding": {
  "x": {"field": "g", "type": "quantitative", "scale": {"domain": [0, 1200], "range": [10, 560], "nice": false}, "axis": {"orient": "bottom", "values": [0,200,400,600,800,1000,1200], "format": "d", "title": "Generation", "titlePadding": 6}},
  "y": {"field": "c", "type": "quantitative", "scale": {"domain": [18500, 21000], "nice": false, "zero": false}, "axis": {"orient": "left", "offset": -10, "values": [18500,19000,19500,20000,20500,21000], "labelExpr": "format(datum.value / 10000, '~g')", "title": "Cost of change", "titlePadding": 4}}
 }},
{"mark": {"type": "point", "opacity": 0},
 "encoding": {
  "x": {"field": "g", "type": "quantitative", "scale": {"domain": [0, 1200], "range": [10, 560], "nice": false}, "axis": {"orient": "top", "values": [0,200,400,600,800,1000,1200], "labels": false, "title": null}},
  "y": {"field": "c", "type": "quantitative", "scale": {"domain": [18500, 21000], "nice": false, "zero": false}, "axis": {"orient": "right", "values": [18500,19000,19500,20000,20500,21000], "labels": false, "title": null}}
 }}
],
"resolve": {"axis": {"x": "independent", "y": "independent"}}
}
],
"columns": 1,
"align": "none",
"spacing": 24,
"config": {
 "view": {"stroke": null},
 "axis": {"grid": false, "domainColor": "#000000", "domainWidth": 1, "tickColor": "#000000", "tickSize": -5, "tickWidth": 1, "labelFont": "Liberation Sans", "labelFontSize": 15, "labelColor": "#000000", "labelPadding": 8, "labelFlush": false, "labelOverlap": false, "titleFont": "Liberation Serif", "titleFontSize": 22, "titleFontWeight": "bold", "titleColor": "#000000"},
 "axisY": {"labelPadding": 10, "titleFontSize": 26}
}
}
